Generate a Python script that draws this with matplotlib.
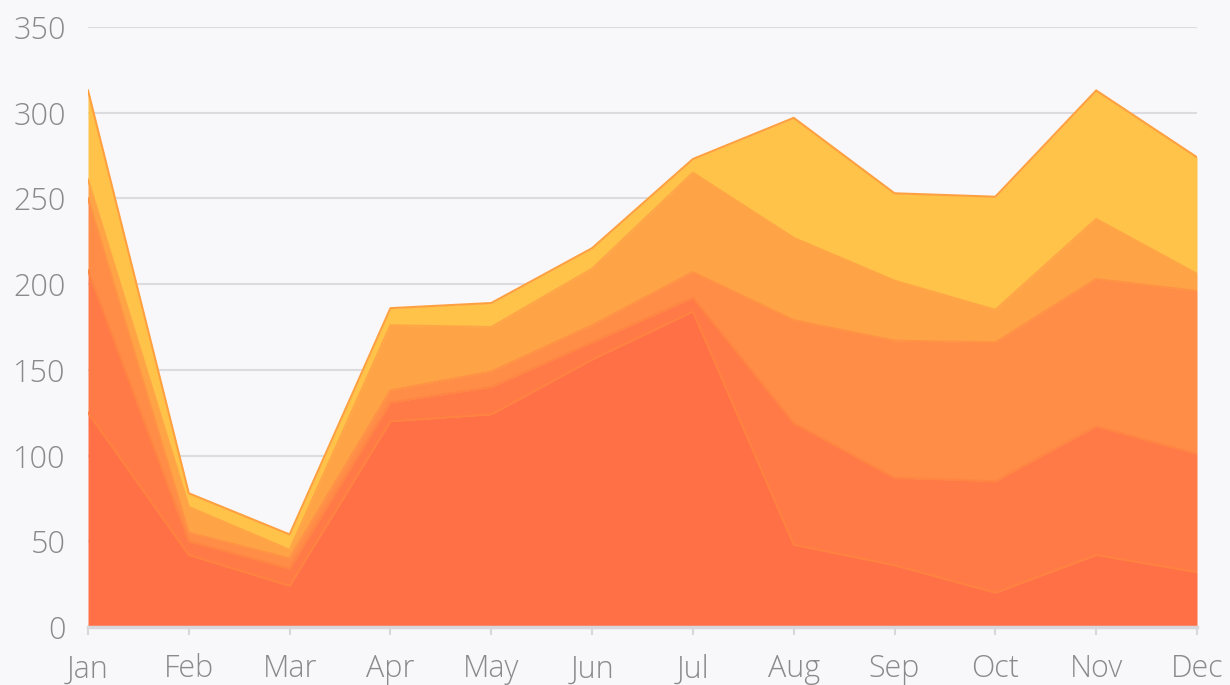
import matplotlib
matplotlib.use("Agg")
import matplotlib.pyplot as plt
import numpy as np

months = ["Jan", "Feb", "Mar", "Apr", "May", "Jun", "Jul", "Aug", "Sep", "Oct", "Nov", "Dec"]

# stacked series, bottom to top
s1 = [125, 42, 24, 120, 124, 156, 184, 48, 36, 20, 42, 32]
s2 = [83, 8, 10, 11, 16, 10, 8, 71, 51, 65, 75, 69]
s3 = [42, 5, 6, 7, 9, 10, 15, 60, 80, 81, 86, 95]
s4 = [11, 15, 5, 38, 26, 33, 58, 48, 35, 19, 35, 10]
s5 = [52, 8, 9, 10, 14, 12, 8, 70, 51, 66, 75, 68]

fills = ["#FF7047", "#FF7A47", "#FF8C47", "#FFA347", "#FFC34A"]
lines = ["#FF8240", "#FF8543", "#FF9244", "#FFA545", "#FFA040"]

plt.rcParams['font.family'] = ['Open Sans', 'DejaVu Sans']

fig = plt.figure(figsize=(12.3, 6.85), dpi=100)
fig.patch.set_facecolor("#F8F8FB")
ax = fig.add_axes([88 / 1230, 58 / 685, (1197 - 88) / 1230, 600 / 685])
ax.set_facecolor("#F8F8FB")

x = np.arange(len(months))
data = np.array([s1, s2, s3, s4, s5])
cum = np.cumsum(data, axis=0)
bottom = np.zeros(len(months))
for i in range(len(data)):
    ax.fill_between(x, bottom, cum[i], color=fills[i], lw=0, zorder=2)
    bottom = cum[i]
for i in range(len(data)):
    ax.plot(x, cum[i], color=lines[i], lw=1.5, zorder=3)

ax.set_xlim(0, 11)
ax.set_ylim(0, 350)
ax.set_yticks(range(0, 351, 50))
ax.set_xticks(x)
ax.set_xticklabels(months)
ax.grid(axis="y", color="#DCDCE0", lw=1.5, zorder=0)
ax.set_axisbelow(True)

for s in ["top", "right", "left"]:
    ax.spines[s].set_visible(False)
ax.spines["bottom"].set_color("#D8D8DC")
ax.spines["bottom"].set_linewidth(2.5)
ax.spines["bottom"].set_zorder(4)
ax.tick_params(axis="y", length=0, pad=16, labelsize=22, labelcolor="#8A8A8A")
ax.tick_params(axis="x", length=6, width=1.5, color="#D8D8DC", pad=13, labelsize=22, labelcolor="#8A8A8A")
for t in ax.get_xticklabels() + ax.get_yticklabels():
    t.set_fontweight("light")

fig.savefig("out.png", dpi=100, facecolor=fig.get_facecolor())
